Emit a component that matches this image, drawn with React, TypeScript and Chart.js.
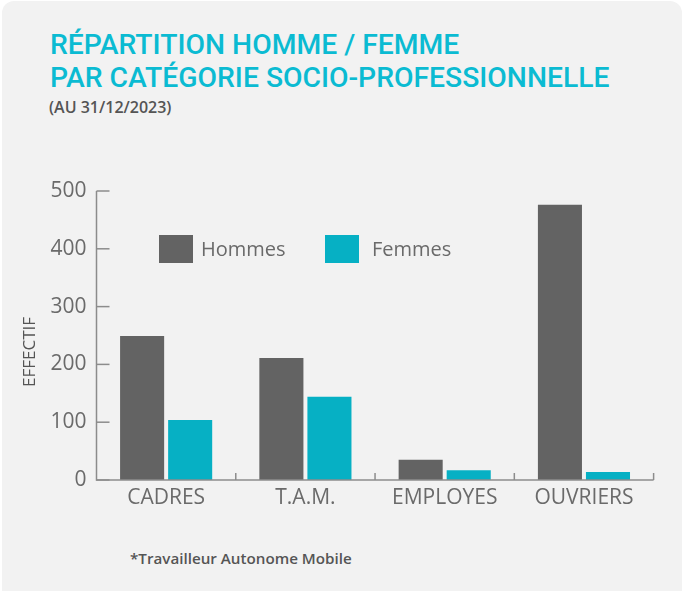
import React, { useEffect, useRef } from "react";
import { Chart, registerables } from "chart.js";

Chart.register(...registerables);

const categories = ["CADRES", "T.A.M.", "EMPLOYES", "OUVRIERS"];
const hommes = [249, 211, 35, 476];
const femmes = [104, 144, 17, 14];
const yTickValues = [0, 100, 200, 300, 400, 500];
const seriesNames = ["Hommes", "Femmes"];

const DARK = "#636363";
const CYAN = "#06b0c4";
const AXIS = "#8c8c8c";
const TEXT = "#6a6a6a";
const FONT = "'Open Sans', sans-serif";

const customPlugin = {
  id: "customAxesLegend",
  afterDatasetsDraw(chart: any) {
    const { ctx, chartArea, scales } = chart;
    const { left, right, bottom } = chartArea;
    const y = scales.y;
    ctx.save();
    ctx.strokeStyle = AXIS;
    ctx.lineWidth = 1.5;
    ctx.beginPath();
    ctx.moveTo(left, y.getPixelForValue(500));
    ctx.lineTo(left, bottom + 0.75);
    ctx.stroke();
    for (const v of yTickValues) {
      const py = y.getPixelForValue(v);
      ctx.beginPath();
      ctx.moveTo(left, py);
      ctx.lineTo(left + 13, py);
      ctx.stroke();
    }
    ctx.beginPath();
    ctx.moveTo(left, bottom);
    ctx.lineTo(right, bottom);
    ctx.stroke();
    const cw = (right - left) / categories.length;
    for (let i = 1; i <= categories.length; i++) {
      const px = left + i * cw;
      ctx.beginPath();
      ctx.moveTo(px, bottom);
      ctx.lineTo(px, bottom - 7);
      ctx.stroke();
    }
    ctx.restore();
  },
  afterDraw(chart: any) {
    const { ctx } = chart;
    ctx.save();
    const items = [
      { label: seriesNames[0], color: DARK, bx: 159, tx: 201 },
      { label: seriesNames[1], color: CYAN, bx: 325, tx: 372 },
    ];
    ctx.font = `20px ${FONT}`;
    ctx.textBaseline = "middle";
    ctx.textAlign = "left";
    for (const it of items) {
      ctx.fillStyle = it.color;
      ctx.fillRect(it.bx, 235, 34, 28);
      ctx.fillStyle = TEXT;
      ctx.fillText(it.label, it.tx, 250);
    }
    ctx.translate(30, 352);
    ctx.rotate(-Math.PI / 2);
    ctx.textAlign = "center";
    ctx.fillStyle = "#555555";
    ctx.font = `17px ${FONT}`;
    ctx.fillText("EFFECTIF", 0, 0);
    ctx.restore();
  },
};

export default function App() {
  const ref = useRef<HTMLCanvasElement>(null);
  useEffect(() => {
    document.body.style.margin = "0";
    const chart = new Chart(ref.current!, {
      type: "bar",
      data: {
        labels: categories,
        datasets: [
          { label: seriesNames[0], data: hommes, backgroundColor: DARK },
          { label: seriesNames[1], data: femmes, backgroundColor: CYAN },
        ],
      },
      options: {
        responsive: false,
        animation: false,
        events: [],
        layout: { padding: { top: 191, right: 30.4, left: 0, bottom: 0 } },
        plugins: { legend: { display: false }, tooltip: { enabled: false } },
        datasets: { bar: { categoryPercentage: 0.69, barPercentage: 0.917 } },
        scales: {
          x: {
            grid: { display: false, drawTicks: false },
            border: { display: false },
            ticks: { color: TEXT, font: { family: FONT, size: 21 }, padding: 5 },
            afterFit: (s: any) => { s.height = 111; },
          },
          y: {
            min: 0,
            max: 500,
            grid: { display: false, drawTicks: false },
            border: { display: false },
            ticks: { stepSize: 100, color: TEXT, font: { family: FONT, size: 21 }, padding: 10 },
            afterFit: (s: any) => { s.width = 96.5; },
          },
        },
      },
      plugins: [customPlugin],
    });
    return () => chart.destroy();
  }, []);

  return (
    <div style={{ position: "fixed", left: 0, top: 0, width: 684, height: 591, background: "#ffffff", overflow: "hidden" }}>
      <div style={{ position: "absolute", left: 2, top: 1, width: 680, height: 640, borderRadius: 12, background: "#f2f2f2" }} />
      <div style={{ position: "absolute", left: 50, top: 28, fontFamily: "Roboto, sans-serif", fontWeight: 500, fontSize: 28.3, lineHeight: "33px", color: "#0bbbd2", whiteSpace: "nowrap" }}>
        <div>RÉPARTITION HOMME / FEMME</div>
        <div>PAR CATÉGORIE SOCIO-PROFESSIONNELLE</div>
      </div>
      <div style={{ position: "absolute", left: 49, top: 96, fontFamily: FONT, fontWeight: 600, fontSize: 16, color: "#555555", whiteSpace: "nowrap" }}>
        (AU 31/12/2023)
      </div>
      <div style={{ position: "absolute", left: 130, top: 548, fontFamily: FONT, fontWeight: 600, fontSize: 15.2, color: "#555555", whiteSpace: "nowrap" }}>
        *Travailleur Autonome Mobile
      </div>
      <canvas ref={ref} width={684} height={591} style={{ position: "absolute", left: 0, top: 0 }} />
    </div>
  );
}
